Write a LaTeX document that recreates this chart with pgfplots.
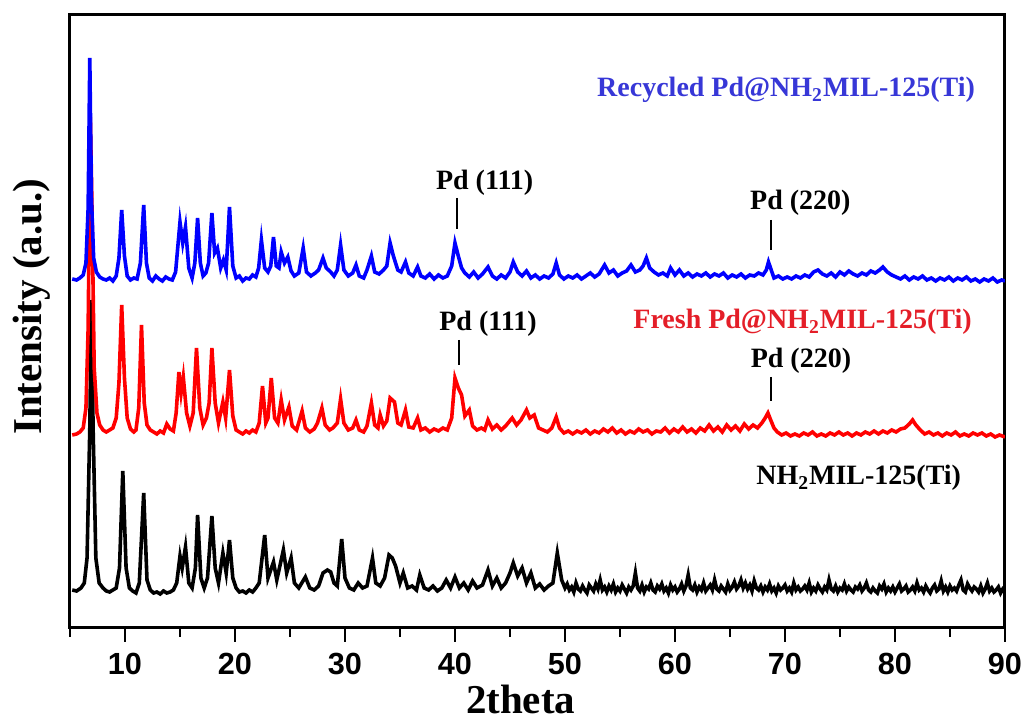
\documentclass[border=0pt]{standalone}
\usepackage{fontspec}
\setmainfont{Liberation Serif}
\newfontfamily\ticksans{Liberation Sans}
\usepackage{pgfplots}
\pgfplotsset{compat=1.18}

\definecolor{recblue}{RGB}{55,55,215}
\definecolor{freshred}{RGB}{228,30,40}

\begin{document}
\begin{tikzpicture}
\begin{axis}[
  at={(0,0)}, anchor=south west,
  scale only axis,
  width=467.5pt, height=306.5pt,
  xmin=5, xmax=90, ymin=0, ymax=613,
  xtick={10,20,...,90},
  minor xtick={5,15,...,85},
  xtick pos=bottom, tick align=outside, xtick align=outside,
  major tick length=7pt, minor tick length=4.5pt,
  tick style={black, line width=1.4pt},
  ytick=\empty,
  axis line style={line width=1.5pt},
  /pgf/number format/assume math mode=true,
  xticklabel style={font=\ticksans\bfseries\fontsize{15.3}{16}\selectfont, yshift=-2pt},
  xlabel={\bfseries 2theta},
  xlabel style={font=\fontsize{20.5}{22}\selectfont, at={(axis description cs:0.482,-0.117)}, anchor=center},
  ylabel={\bfseries Intensity (a.u.)},
  ylabel style={font=\fontsize{20.5}{22}\selectfont, at={(axis description cs:-0.0406,0.524)}, anchor=center},
  clip=true,
]

% NH2MIL-125(Ti)
\addplot[black, line width=1.8pt] coordinates {
(5.2,38)(5.6,37)(6.0,40)(6.3,45)(6.55,70)(6.8,200)(6.95,328)(7.1,200)(7.35,70)(7.65,45)(8.0,40)(8.3,37)(8.6,36)(8.9,38)(9.2,40)(9.5,60)(9.8,157)(10.1,60)(10.4,40)(10.7,37)(11.0,35)(11.3,45)(11.7,135)(12.0,48)(12.3,38)(12.6,35)(12.9,36)(13.2,34)(13.5,37)(13.8,35)(14.1,36)(14.4,38)(14.7,45)(15.0,72)(15.2,60)(15.5,81)(15.8,45)(16.1,40)(16.4,60)(16.6,113)(16.9,50)(17.2,40)(17.5,50)(17.9,112)(18.2,60)(18.5,45)(18.9,75)(19.2,55)(19.5,88)(19.8,50)(20.1,40)(20.4,36)(20.7,37)(21.0,35)(21.3,38)(21.6,36)(21.9,40)(22.2,45)(22.7,93)(23.0,50)(23.5,66)(23.8,48)(24.4,78)(24.7,55)(25.1,70)(25.4,45)(25.8,40)(26.4,51)(26.8,40)(27.2,38)(27.6,42)(28.0,55)(28.4,58)(28.7,56)(29.0,45)(29.3,42)(29.7,89)(30.0,50)(30.4,40)(30.8,38)(31.2,45)(31.6,40)(32.0,42)(32.5,70)(32.8,45)(33.2,42)(33.6,50)(34.0,73)(34.3,70)(34.6,62)(35.0,45)(35.3,55)(35.7,40)(36.1,42)(36.5,38)(36.8,53)(37.2,40)(37.6,38)(38.0,42)(38.4,37)(38.8,40)(39.2,48)(39.6,40)(40.0,51)(40.4,40)(40.8,45)(41.2,38)(41.6,47)(42.0,40)(42.5,43)(43.0,58)(43.4,42)(43.8,50)(44.2,40)(44.6,45)(45.0,55)(45.3,65)(45.7,52)(46.1,60)(46.5,45)(46.9,55)(47.3,40)(47.7,44)(48.1,38)(48.5,42)(48.9,45)(49.3,75)(49.7,48)
(50.0,40)(50.2,44)(50.4,38)(50.6,41)(50.8,36)(51.0,45)(51.2,39)(51.4,37)(51.6,42)(51.8,38)
(52.0,35)(52.2,43)(52.4,40)(52.6,37)(52.8,44)(53.0,39)(53.2,48)(53.4,38)(53.6,41)(53.8,36)
(54.0,42)(54.2,38)(54.4,44)(54.6,36)(54.8,40)(55.0,37)(55.2,43)(55.4,39)(55.6,35)(55.8,41)
(56.0,38)(56.2,42)(56.4,55)(56.6,40)(56.8,37)(57.0,43)(57.2,36)(57.4,41)(57.6,39)(57.8,45)
(58.0,38)(58.2,36)(58.4,42)(58.6,39)(58.8,44)(59.0,37)(59.2,40)(59.4,35)(59.6,43)(59.8,38)
(60.0,41)(60.2,36)(60.4,39)(60.6,44)(60.8,37)(61.0,42)(61.2,53)(61.4,40)(61.6,38)(61.8,43)
(62.0,36)(62.2,41)(62.4,38)(62.6,45)(62.8,37)(63.0,40)(63.2,43)(63.4,38)(63.6,48)(63.8,39)
(64.0,37)(64.2,42)(64.4,39)(64.6,36)(64.8,44)(65.0,38)(65.2,41)(65.4,46)(65.6,39)(65.8,42)
(66.0,48)(66.2,40)(66.4,45)(66.6,39)(66.8,43)(67.0,37)(67.2,47)(67.4,40)(67.6,38)(67.8,42)
(68.0,36)(68.2,41)(68.4,38)(68.6,44)(68.8,37)(69.0,40)(69.2,35)(69.4,42)(69.6,38)(69.8,40)
(70.0,43)(70.2,37)(70.4,40)(70.6,36)(70.8,45)(71.0,38)(71.2,41)(71.4,37)(71.6,39)(71.8,42)
(72.0,38)(72.2,45)(72.4,36)(72.6,40)(72.8,37)(73.0,43)(73.2,39)(73.4,36)(73.6,41)(73.8,38)
(74.0,48)(74.2,39)(74.4,37)(74.6,42)(74.8,36)(75.0,40)(75.2,38)(75.4,44)(75.6,37)(75.8,41)
(76.0,38)(76.2,36)(76.4,41)(76.6,39)(76.8,43)(77.0,37)(77.2,40)(77.4,45)(77.6,38)(77.8,36)
(78.0,40)(78.2,37)(78.4,35)(78.6,42)(78.8,39)(79.0,44)(79.2,36)(79.4,40)(79.6,37)(79.8,41)
(80.0,36)(80.2,40)(80.4,44)(80.6,37)(80.8,39)(81.0,42)(81.2,36)(81.4,38)(81.6,41)(81.8,37)
(82.0,45)(82.2,38)(82.4,40)(82.6,36)(82.8,42)(83.0,38)(83.2,35)(83.4,40)(83.6,43)(83.8,37)
(84.0,39)(84.2,47)(84.4,37)(84.6,41)(84.8,36)(85.0,42)(85.2,38)(85.4,40)(85.6,37)(85.8,43)
(86.0,48)(86.2,38)(86.4,36)(86.6,44)(86.8,40)(87.0,37)(87.2,41)(87.4,39)(87.6,36)(87.8,42)
(88.0,35)(88.2,39)(88.4,45)(88.6,37)(88.8,40)(89.0,36)(89.2,38)(89.4,41)(89.6,35)(89.8,39)(90.0,37)
};

% Fresh Pd@NH2MIL-125(Ti)
\addplot[red, line width=1.8pt] coordinates {
(5.2,193)(5.6,194)(5.9,196)(6.2,200)(6.45,220)(6.65,300)(6.85,511)(7.0,420)(7.2,260)(7.45,215)(7.7,203)(8.0,198)(8.3,196)(8.6,198)(8.9,200)(9.2,210)(9.45,245)(9.7,323)(9.95,250)(10.2,210)(10.5,199)(10.8,196)(11.0,198)(11.25,220)(11.5,303)(11.75,225)(12.0,203)(12.3,198)(12.6,196)(12.9,194)(13.2,197)(13.5,195)(13.8,204)(14.1,199)(14.4,197)(14.65,215)(14.9,256)(15.1,235)(15.3,251)(15.6,215)(15.9,202)(16.2,215)(16.5,280)(16.8,220)(17.1,203)(17.4,210)(17.65,225)(17.9,280)(18.2,225)(18.5,205)(18.9,226)(19.15,210)(19.5,258)(19.8,212)(20.1,198)(20.4,196)(20.7,194)(21.0,197)(21.3,195)(21.6,198)(21.9,196)(22.2,205)(22.5,242)(22.8,205)(23.0,210)(23.3,250)(23.6,210)(23.9,205)(24.2,228)(24.5,208)(24.9,221)(25.2,202)(25.6,198)(26.1,217)(26.4,200)(26.8,196)(27.2,199)(27.5,205)(27.9,220)(28.2,203)(28.6,198)(28.9,200)(29.3,205)(29.6,229)(29.9,205)(30.3,198)(30.7,200)(31.0,208)(31.3,198)(31.7,196)(32.0,202)(32.4,225)(32.7,203)(33.0,200)(33.2,213)(33.5,202)(33.8,207)(34.1,230)(34.5,226)(34.8,205)(35.1,203)(35.5,218)(35.8,201)(36.2,200)(36.6,210)(36.9,198)(37.3,200)(37.7,196)(38.1,199)(38.5,197)(38.9,200)(39.3,198)(39.7,210)(40.0,250)(40.3,240)(40.6,233)(40.9,212)(41.3,218)(41.6,202)(42.0,198)(42.4,200)(42.7,198)(43.0,208)(43.4,199)(43.8,203)(44.2,198)(44.6,202)(45.2,210)(45.6,203)(46.0,208)(46.5,218)(46.8,210)(47.2,213)(47.6,200)(48.0,198)(48.4,196)(48.8,200)(49.2,211)(49.5,200)(49.9,195)(50.3,197)(50.7,194)(51.1,197)(51.5,195)(51.9,198)(52.3,194)(52.7,197)(53.1,195)(53.5,199)(53.9,196)(54.3,200)(54.7,195)(55.1,198)(55.5,194)(55.9,197)(56.3,195)(56.7,199)(57.1,196)(57.5,198)(57.9,194)(58.3,197)(58.7,196)(59.1,200)(59.5,195)(59.9,199)(60.3,196)(60.7,201)(61.1,196)(61.5,199)(61.9,195)(62.3,200)(62.7,197)(63.1,203)(63.5,197)(63.9,201)(64.3,196)(64.7,203)(65.1,198)(65.5,202)(65.9,197)(66.3,204)(66.7,199)(67.1,203)(67.5,200)(67.9,205)(68.2,210)(68.45,215)(68.7,208)(69.0,200)(69.3,196)(69.7,193)(70.1,195)(70.5,192)(70.9,194)(71.3,192)(71.7,195)(72.1,193)(72.5,196)(72.9,192)(73.3,194)(73.7,192)(74.1,195)(74.5,193)(74.9,196)(75.3,193)(75.7,195)(76.1,192)(76.5,195)(76.9,193)(77.3,196)(77.7,194)(78.1,197)(78.5,194)(78.9,197)(79.3,195)(79.7,198)(80.1,196)(80.5,199)(80.9,200)(81.3,204)(81.6,208)(81.9,203)(82.3,198)(82.7,194)(83.1,196)(83.5,193)(83.9,195)(84.3,192)(84.7,195)(85.1,193)(85.5,196)(85.9,192)(86.3,194)(86.7,192)(87.1,195)(87.5,193)(87.9,195)(88.3,192)(88.7,194)(89.1,191)(89.5,193)(90.0,191)
};

% Recycled Pd@NH2MIL-125(Ti)
\addplot[blue, line width=1.8pt] coordinates {
(5.2,349)(5.6,348)(5.9,350)(6.2,353)(6.45,365)(6.65,420)(6.8,570)(6.95,430)(7.15,370)(7.4,356)(7.7,351)(8.0,349)(8.3,348)(8.6,350)(8.9,347)(9.2,352)(9.45,370)(9.7,418)(9.95,372)(10.2,352)(10.5,348)(10.8,350)(11.1,349)(11.4,365)(11.7,423)(11.95,365)(12.2,350)(12.5,347)(12.8,352)(13.1,349)(13.4,347)(13.7,351)(14.0,349)(14.3,348)(14.6,356)(15.0,406)(15.25,385)(15.5,401)(15.8,360)(16.1,350)(16.35,365)(16.6,410)(16.85,365)(17.1,352)(17.35,355)(17.6,365)(17.9,415)(18.15,375)(18.4,380)(18.7,360)(18.95,368)(19.2,358)(19.5,421)(19.8,362)(20.1,350)(20.4,352)(20.7,347)(21.0,350)(21.3,349)(21.6,353)(21.9,351)(22.15,360)(22.4,388)(22.7,360)(23.0,356)(23.25,362)(23.5,391)(23.75,362)(24.0,360)(24.2,376)(24.5,365)(24.8,371)(25.1,357)(25.4,352)(25.8,355)(26.2,380)(26.5,356)(26.9,352)(27.3,355)(27.6,358)(28.0,370)(28.3,360)(28.7,356)(29.0,352)(29.3,358)(29.6,383)(29.9,358)(30.3,352)(30.7,355)(31.0,363)(31.3,352)(31.7,350)(32.0,358)(32.4,372)(32.7,356)(33.1,354)(33.5,358)(33.8,362)(34.1,385)(34.4,372)(34.8,358)(35.1,356)(35.5,366)(35.8,355)(36.2,352)(36.6,361)(36.9,352)(37.3,350)(37.7,354)(38.1,349)(38.5,353)(38.9,350)(39.3,352)(39.7,362)(40.0,385)(40.3,372)(40.6,360)(40.9,355)(41.3,351)(41.7,356)(42.1,350)(42.5,354)(43.0,361)(43.4,352)(43.8,349)(44.2,353)(44.6,350)(45.0,356)(45.3,366)(45.7,356)(46.1,352)(46.5,357)(46.9,350)(47.3,353)(47.7,349)(48.1,352)(48.5,350)(48.9,354)(49.2,365)(49.5,353)(49.9,349)(50.3,352)(50.7,350)(51.1,353)(51.5,349)(51.9,352)(52.3,355)(52.7,351)(53.1,354)(53.6,363)(54.0,355)(54.4,358)(54.8,352)(55.2,355)(55.6,357)(56.0,363)(56.4,356)(56.8,358)(57.1,362)(57.4,370)(57.7,360)(58.1,356)(58.5,353)(58.9,355)(59.3,352)(59.6,360)(60.0,353)(60.4,358)(60.8,352)(61.2,355)(61.6,351)(62.0,354)(62.4,352)(62.8,355)(63.2,351)(63.6,354)(64.0,352)(64.4,355)(64.8,350)(65.2,353)(65.6,351)(66.0,354)(66.4,350)(66.8,353)(67.2,352)(67.6,355)(68.0,353)(68.3,358)(68.5,366)(68.75,358)(69.0,350)(69.4,352)(69.8,349)(70.2,351)(70.6,349)(71.0,352)(71.4,350)(71.8,353)(72.2,351)(72.6,356)(73.0,358)(73.4,354)(73.8,352)(74.2,355)(74.6,351)(75.0,356)(75.4,353)(75.8,357)(76.2,354)(76.6,352)(77.0,355)(77.4,353)(77.8,357)(78.2,355)(78.6,358)(78.9,361)(79.3,356)(79.7,353)(80.1,351)(80.5,349)(80.9,352)(81.3,348)(81.7,351)(82.1,349)(82.5,352)(82.9,348)(83.3,350)(83.7,347)(84.1,350)(84.5,348)(84.9,351)(85.3,347)(85.7,350)(86.1,348)(86.5,351)(86.9,347)(87.3,349)(87.7,346)(88.1,349)(88.5,347)(88.9,350)(89.3,346)(89.7,348)(90.0,347)
};

% labels
\node[text=recblue, font=\bfseries\fontsize{14}{15}\selectfont] at (axis cs:70.1,538) {Recycled Pd@NH\textsubscript{2}MIL-125(Ti)};
\node[text=freshred, font=\bfseries\fontsize{14}{15}\selectfont] at (axis cs:71.6,306) {Fresh Pd@NH\textsubscript{2}MIL-125(Ti)};
\node[font=\bfseries\fontsize{14}{15}\selectfont] at (axis cs:76.7,150) {NH\textsubscript{2}MIL-125(Ti)};

\node[font=\bfseries\fontsize{14}{15}\selectfont] at (axis cs:42.7,445) {Pd (111)};
\draw[line width=1pt] (axis cs:40.2,430) -- (axis cs:40.2,399);
\node[font=\bfseries\fontsize{14}{15}\selectfont] at (axis cs:43.0,304) {Pd (111)};
\draw[line width=1pt] (axis cs:40.4,288) -- (axis cs:40.4,263);
\node[font=\bfseries\fontsize{14}{15}\selectfont] at (axis cs:71.4,425) {Pd (220)};
\draw[line width=1pt] (axis cs:68.7,408) -- (axis cs:68.7,378);
\node[font=\bfseries\fontsize{14}{15}\selectfont] at (axis cs:71.45,267) {Pd (220)};
\draw[line width=1pt] (axis cs:68.7,251) -- (axis cs:68.7,227);
\end{axis}
\pgfresetboundingbox
\path (-35pt,-47pt) rectangle (476.5pt,314pt);
\end{tikzpicture}
\end{document}
